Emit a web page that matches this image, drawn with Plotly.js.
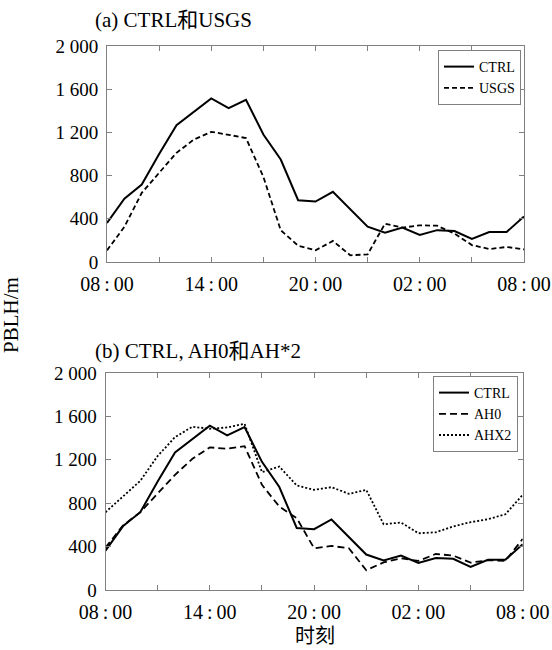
<!DOCTYPE html>
<html>
<head>
<meta charset="utf-8">
<script src="https://cdn.plot.ly/plotly-3.0.1.min.js"></script>
<style>html,body{margin:0;padding:0;background:#fff;}#chart{width:552px;height:650px;}</style>
</head>
<body>
<div id="chart"></div>
<script>
// hours after 08:00 (0 = 08:00 day 1, 24 = 08:00 day 2)
const hours = [0,1,2,3,4,5,6,7,8,9,10,11,12,13,14,15,16,17,18,19,20,21,22,23,24];
const xTickVals = [0,3,6,9,12,15,18,21,24];
const xTickText = ["08\u2009:\u200900","","14\u2009:\u200900","","20\u2009:\u200900","","02\u2009:\u200900","","08\u2009:\u200900"];
const yTickVals = [0,400,800,1200,1600,2000];
const yTickText = ["0","400","800","1 200","1 600","2 000"];

const ctrl = [362,587,717,1000,1267,1391,1515,1425,1502,1181,949,572,560,650,487,327,272,318,250,295,287,213,278,278,422];
const usgs = [108,325,640,822,1011,1134,1205,1178,1147,788,294,151,108,195,62,71,355,318,340,336,262,157,120,139,117];
const ah0  = [390,594,717,892,1062,1209,1314,1302,1326,969,769,662,385,406,385,182,255,292,268,332,317,252,274,268,471];
const ahx2 = [717,862,1006,1235,1409,1505,1486,1498,1532,1086,1138,963,923,948,886,923,606,622,523,532,585,625,652,698,877];

const W = 552, H = 650;
const px = v => v / W;
const py = v => 1 - v / H;
const serif = "Liberation Serif, Times New Roman, Noto Sans CJK SC, serif";
const cjk = "Liberation Serif, Noto Sans CJK SC, serif";

const traces = [
  {x: hours, y: ctrl, name: "CTRL", mode: "lines", xaxis: "x", yaxis: "y",
   line: {color: "#000", width: 2}, legend: "legend"},
  {x: hours, y: usgs, name: "USGS", mode: "lines", xaxis: "x", yaxis: "y",
   line: {color: "#000", width: 1.8, dash: "5px,3px"}, legend: "legend"},
  {x: hours, y: ctrl, name: "CTRL", mode: "lines", xaxis: "x2", yaxis: "y2",
   line: {color: "#000", width: 2}, legend: "legend2"},
  {x: hours, y: ah0, name: "AH0", mode: "lines", xaxis: "x2", yaxis: "y2",
   line: {color: "#000", width: 1.8, dash: "7px,4px"}, legend: "legend2"},
  {x: hours, y: ahx2, name: "AHX2", mode: "lines", xaxis: "x2", yaxis: "y2",
   line: {color: "#000", width: 1.8, dash: "2px,2px"}, legend: "legend2"}
];

const xaxisBase = {
  range: [0, 24], tickvals: xTickVals, ticktext: xTickText,
  ticks: "inside", ticklen: 5, tickcolor: "#808080", tickwidth: 1,
  showline: true, linecolor: "#808080", linewidth: 1, mirror: "ticks",
  showgrid: false, zeroline: false, automargin: false,
  tickfont: {family: serif, size: 20, color: "#000"}, ticklabelstandoff: 4
};
const yaxisBase = {
  range: [0, 2000], tickvals: yTickVals, ticktext: yTickText,
  ticks: "inside", ticklen: 5, tickcolor: "#808080", tickwidth: 1,
  showline: true, linecolor: "#808080", linewidth: 1, mirror: "ticks",
  showgrid: false, zeroline: false, automargin: false,
  tickfont: {family: serif, size: 19, color: "#000"}, ticklabelstandoff: 4
};

const legendBase = {
  xanchor: "right", yanchor: "top", bgcolor: "#fff",
  bordercolor: "#808080", borderwidth: 1,
  font: {family: serif, size: 14, color: "#000"},
  itemwidth: 30, tracegroupgap: 0
};

const layout = {
  width: W, height: H,
  margin: {l: 0, r: 0, t: 0, b: 0},
  paper_bgcolor: "#fff", plot_bgcolor: "#fff",
  showlegend: true,
  xaxis: Object.assign({}, xaxisBase, {domain: [px(107), px(524)], anchor: "y"}),
  yaxis: Object.assign({}, yaxisBase, {domain: [py(262), py(46)], anchor: "x"}),
  xaxis2: Object.assign({}, xaxisBase, {domain: [px(105.5), px(522.7)], anchor: "y2"}),
  yaxis2: Object.assign({}, yaxisBase, {domain: [py(590), py(373)], anchor: "x2"}),
  legend: Object.assign({}, legendBase, {x: px(521), y: py(50)}),
  legend2: Object.assign({}, legendBase, {x: px(518), y: py(376)}),
  annotations: [
    {text: "(a) CTRL和USGS", xref: "paper", yref: "paper", x: px(93), y: py(20),
     xanchor: "left", yanchor: "middle", showarrow: false,
     font: {family: cjk, size: 21, color: "#000"}},
    {text: "(b) CTRL, AH0和AH*2", xref: "paper", yref: "paper", x: px(93), y: py(351),
     xanchor: "left", yanchor: "middle", showarrow: false,
     font: {family: cjk, size: 21, color: "#000"}},
    {text: "PBLH/m", xref: "paper", yref: "paper", x: px(11), y: py(315),
     xanchor: "center", yanchor: "middle", showarrow: false, textangle: -90,
     font: {family: serif, size: 21, color: "#000"}},
    {text: "时刻", xref: "paper", yref: "paper", x: px(315), y: py(636),
     xanchor: "center", yanchor: "middle", showarrow: false,
     font: {family: cjk, size: 20, color: "#000"}}
  ]
};

Plotly.newPlot("chart", traces, layout, {displayModeBar: false, staticPlot: true});
</script>
</body>
</html>
